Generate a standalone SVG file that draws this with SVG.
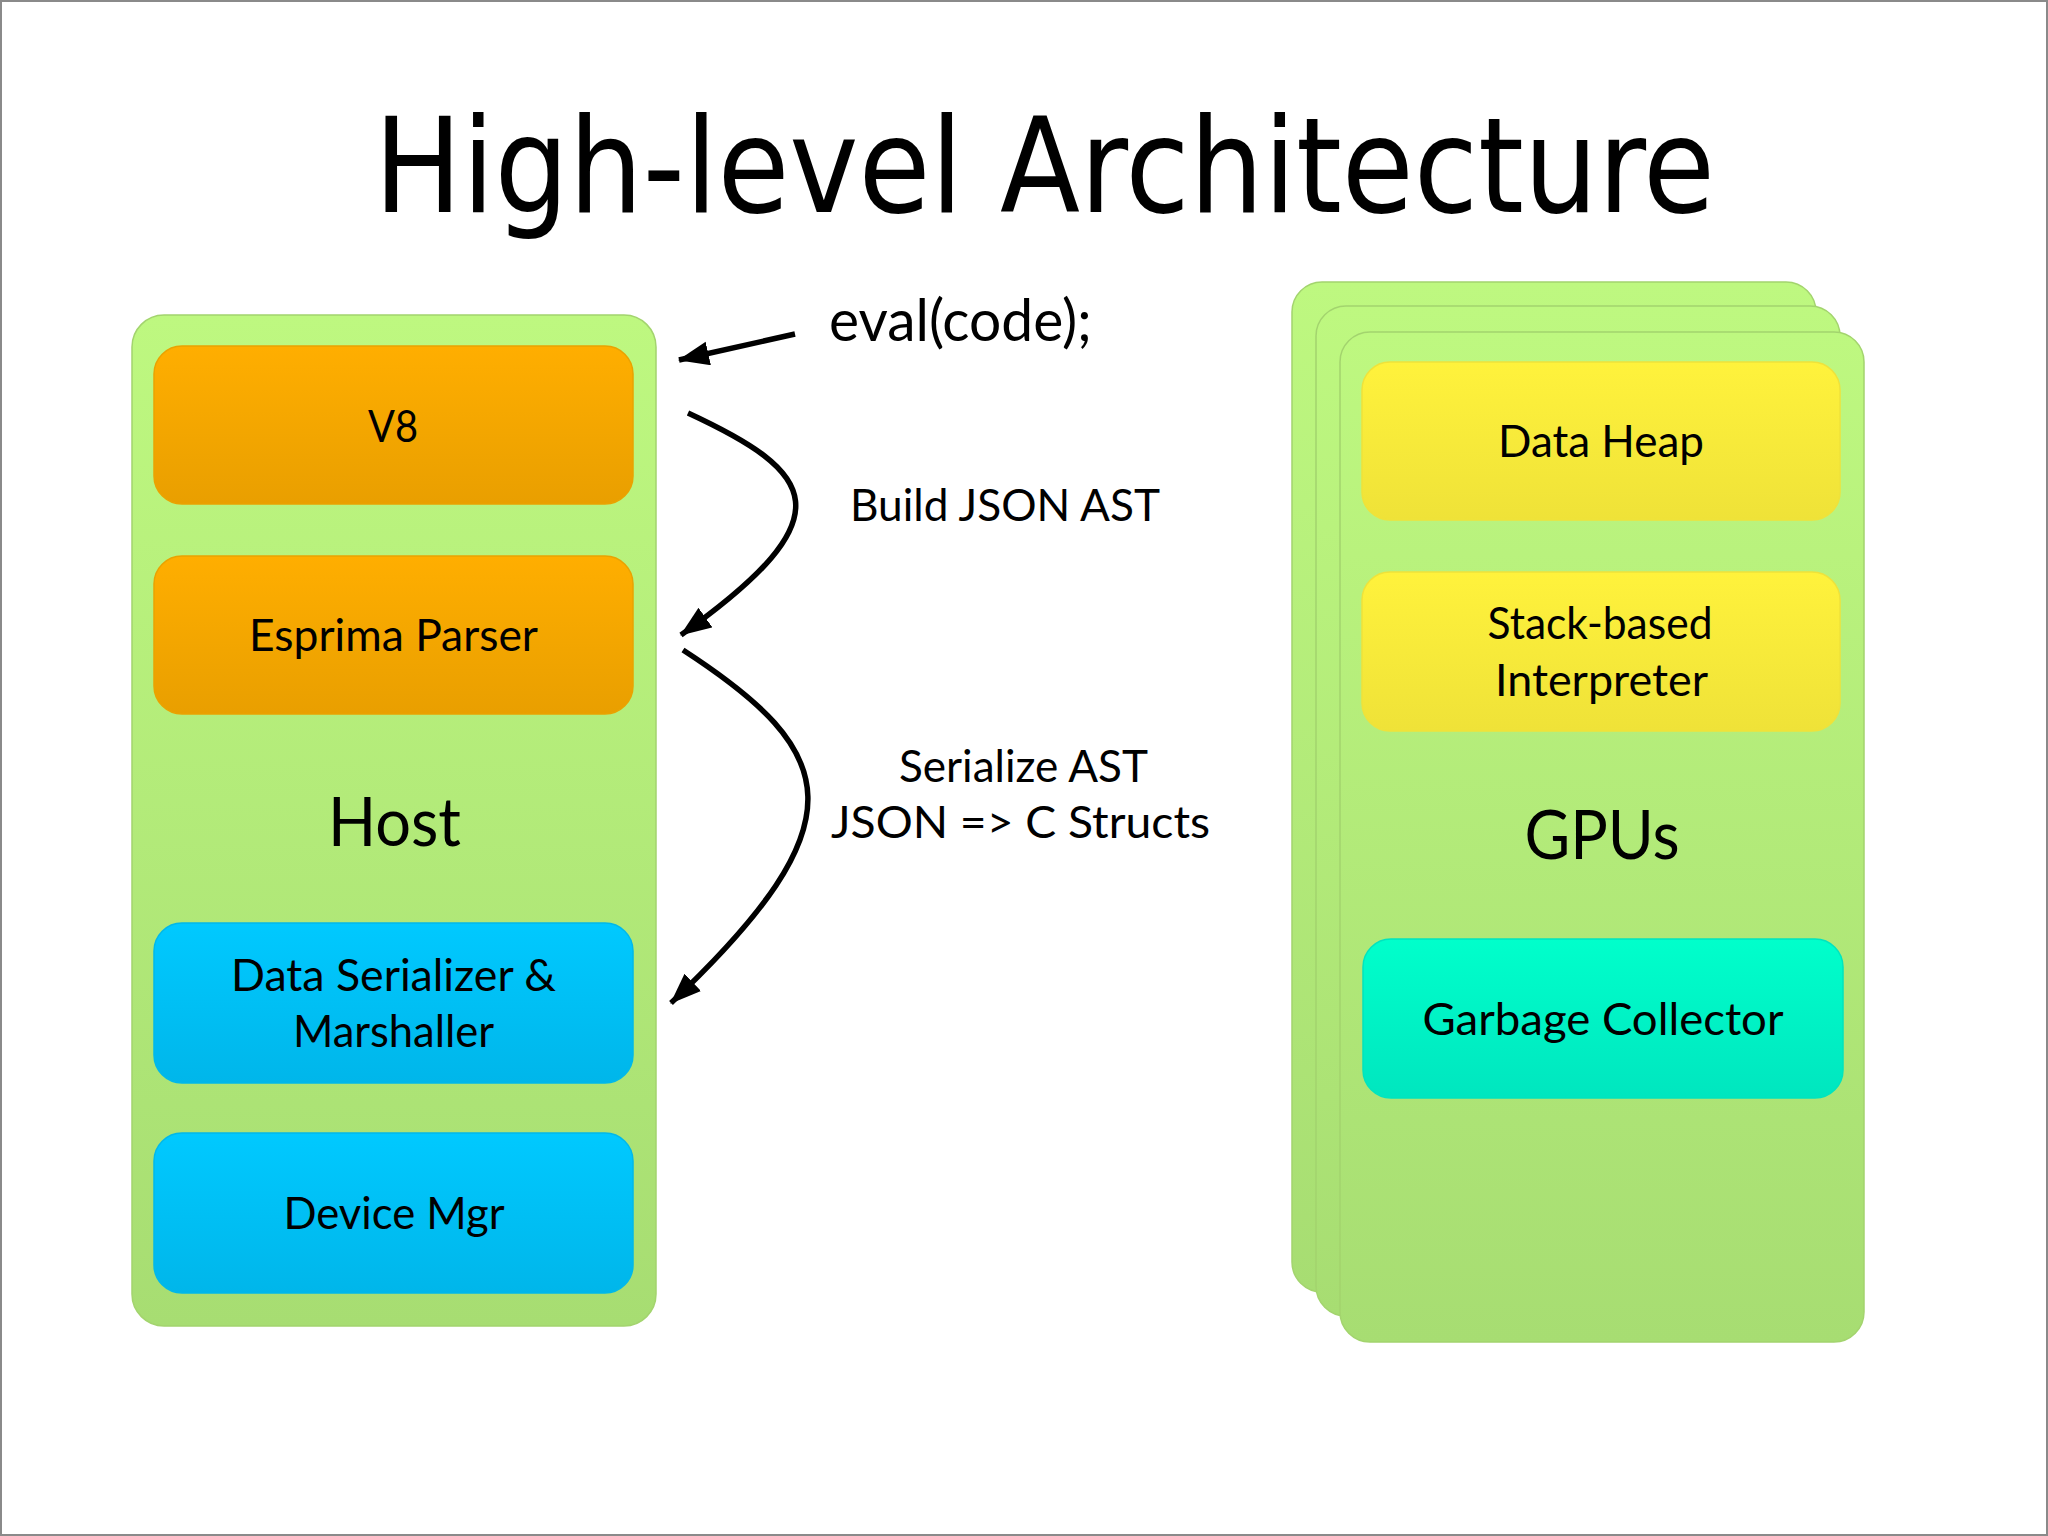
<svg xmlns="http://www.w3.org/2000/svg" width="2048" height="1536" viewBox="0 0 2048 1536">
  <defs>
    <linearGradient id="gGreen" x1="0" y1="0" x2="0" y2="1">
      <stop offset="0" stop-color="#bef880"/>
      <stop offset="1" stop-color="#a7dd72"/>
    </linearGradient>
    <linearGradient id="gOrange" x1="0" y1="0" x2="0" y2="1">
      <stop offset="0" stop-color="#ffae00"/>
      <stop offset="1" stop-color="#e99f00"/>
    </linearGradient>
    <linearGradient id="gBlue" x1="0" y1="0" x2="0" y2="1">
      <stop offset="0" stop-color="#00c9ff"/>
      <stop offset="1" stop-color="#00b6ea"/>
    </linearGradient>
    <linearGradient id="gYellow" x1="0" y1="0" x2="0" y2="1">
      <stop offset="0" stop-color="#fff23c"/>
      <stop offset="1" stop-color="#efe238"/>
    </linearGradient>
    <linearGradient id="gTeal" x1="0" y1="0" x2="0" y2="1">
      <stop offset="0" stop-color="#00ffcb"/>
      <stop offset="1" stop-color="#00e6bf"/>
    </linearGradient>
    <marker id="arrow" markerUnits="userSpaceOnUse" markerWidth="32" markerHeight="26" refX="30" refY="12" orient="auto">
      <path d="M0,0 L31,12 L0,24 z" fill="#000"/>
    </marker>
  </defs>
  <style>
    .panel { fill: url(#gGreen); stroke: #a3d46e; stroke-width: 1.5; }
    .orange { fill: url(#gOrange); stroke: #eaa200; stroke-width: 1.5; }
    .blue { fill: url(#gBlue); stroke: #00b8ea; stroke-width: 1.5; }
    .yellow { fill: url(#gYellow); stroke: #efe23a; stroke-width: 1.5; }
    .teal { fill: url(#gTeal); stroke: #00e4bf; stroke-width: 1.5; }
    .lbl { font-family: Lato, "Open Sans", "DejaVu Sans", sans-serif; font-size: 45px; fill: #000; text-anchor: middle; }
    .big { font-family: Lato, "Open Sans", "DejaVu Sans", sans-serif; font-size: 68px; fill: #000; text-anchor: middle; }
    .note { font-family: Lato, "Open Sans", "DejaVu Sans", sans-serif; font-size: 45px; fill: #000; }
    .code { font-size: 58px; }
    .title { font-family: "DejaVu Sans Condensed", "DejaVu Sans", sans-serif; font-size: 131px; fill: #000; }
    .conn { fill: none; stroke: #000; stroke-width: 5.5; marker-end: url(#arrow); }
  </style>
  <rect x="0" y="0" width="2048" height="1536" fill="#ffffff"/>
  <rect x="1" y="1" width="2046" height="1534" fill="none" stroke="#8a8a8a" stroke-width="2"/>

  <text class="title" x="374" y="212" textLength="1341" lengthAdjust="spacingAndGlyphs">High-level Architecture</text>

  <g id="host">
    <rect class="panel" x="132" y="315" width="524" height="1011" rx="32"/>
    <text class="big" x="394.5" y="846" textLength="133" lengthAdjust="spacingAndGlyphs">Host</text>
  </g>
  <g id="v8">
    <rect class="orange" x="154" y="346" width="479" height="158" rx="28"/>
    <text class="lbl" x="393" y="442" textLength="50" lengthAdjust="spacingAndGlyphs">V8</text>
  </g>
  <g id="esprima">
    <rect class="orange" x="154" y="556" width="479" height="158" rx="28"/>
    <text class="lbl" x="393.5" y="651" textLength="289" lengthAdjust="spacingAndGlyphs">Esprima Parser</text>
  </g>
  <g id="serializer">
    <rect class="blue" x="154" y="923" width="479" height="160" rx="28"/>
    <text class="lbl" x="393.5" y="991" textLength="325" lengthAdjust="spacingAndGlyphs">Data Serializer &amp;</text>
    <text class="lbl" x="393.5" y="1047" textLength="201" lengthAdjust="spacingAndGlyphs">Marshaller</text>
  </g>
  <g id="device-mgr">
    <rect class="blue" x="154" y="1133" width="479" height="160" rx="28"/>
    <text class="lbl" x="394" y="1229" textLength="221" lengthAdjust="spacingAndGlyphs">Device Mgr</text>
  </g>

  <g id="gpus">
    <rect class="panel" x="1292" y="282" width="524" height="1010" rx="30"/>
    <rect class="panel" x="1316" y="306" width="524" height="1010" rx="30"/>
    <rect class="panel" x="1340" y="332" width="524" height="1010" rx="30"/>
    <text class="big" x="1602" y="859" textLength="155" lengthAdjust="spacingAndGlyphs">GPUs</text>
  </g>
  <g id="data-heap">
    <rect class="yellow" x="1362" y="362" width="478" height="158" rx="28"/>
    <text class="lbl" x="1601" y="457" textLength="206" lengthAdjust="spacingAndGlyphs">Data Heap</text>
  </g>
  <g id="interpreter">
    <rect class="yellow" x="1362" y="572" width="478" height="159" rx="28"/>
    <text class="lbl" x="1600" y="639" textLength="225" lengthAdjust="spacingAndGlyphs">Stack-based</text>
    <text class="lbl" x="1601.5" y="696" textLength="213" lengthAdjust="spacingAndGlyphs">Interpreter</text>
  </g>
  <g id="gc">
    <rect class="teal" x="1363" y="939" width="480" height="159" rx="28"/>
    <text class="lbl" x="1603" y="1035" textLength="361" lengthAdjust="spacingAndGlyphs">Garbage Collector</text>
  </g>

  <g id="connectors">
    <path class="conn" d="M795,334 L679,360"/>
    <path class="conn" d="M688,413 C815,472 850,515 681,635"/>
    <path class="conn" d="M683,650 C840,752 863,821 671,1003"/>
    <text class="note code" x="829" y="341" textLength="263" lengthAdjust="spacingAndGlyphs">eval(code);</text>
    <text class="note" x="850" y="521" textLength="310" lengthAdjust="spacingAndGlyphs">Build JSON AST</text>
    <text class="note" x="899" y="782" textLength="249" lengthAdjust="spacingAndGlyphs">Serialize AST</text>
    <text class="note" x="831" y="838" textLength="379" lengthAdjust="spacingAndGlyphs">JSON =&gt; C Structs</text>
  </g>
</svg>
